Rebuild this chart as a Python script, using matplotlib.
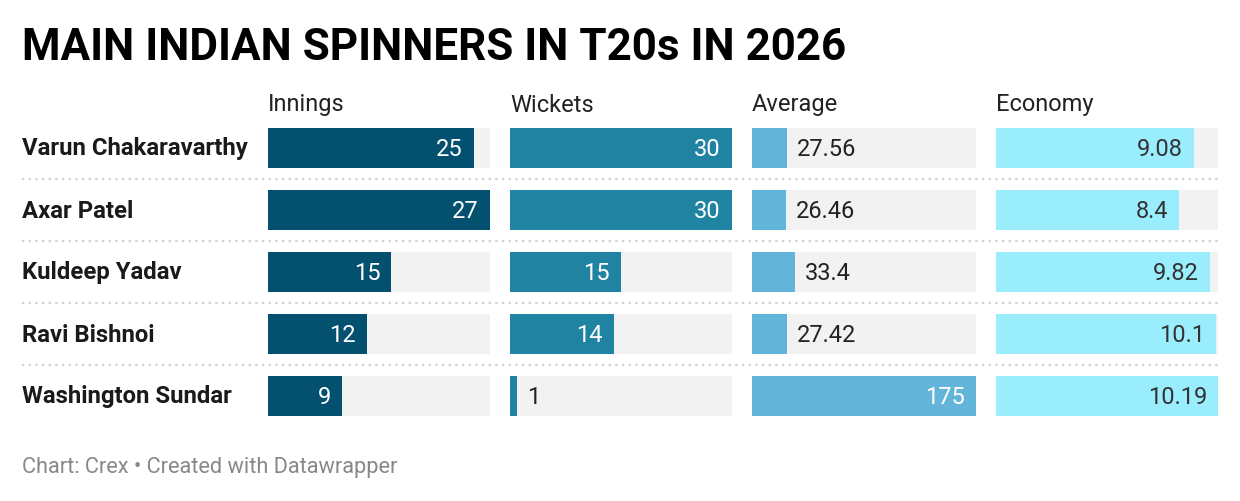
import matplotlib
matplotlib.use("Agg")
import matplotlib.pyplot as plt

# Data
players = ["Varun Chakaravarthy", "Axar Patel", "Kuldeep Yadav", "Ravi Bishnoi", "Washington Sundar"]
innings = [25, 27, 15, 12, 9]
wickets = [30, 30, 15, 14, 1]
average = [27.56, 26.46, 33.4, 27.42, 175]
economy = [9.08, 8.4, 9.82, 10.1, 10.19]
average_labels = ["27.56", "26.46", "33.4", "27.42", "175"]
economy_labels = ["9.08", "8.4", "9.82", "10.1", "10.19"]

plt.rcParams["font.family"] = ["Roboto", "DejaVu Sans"]

W, H = 1240, 502
fig = plt.figure(figsize=(W / 100, H / 100), dpi=100)


def px_axes(x0, y_top, w, h):
    # pixel box (from top-left) -> figure fraction
    return fig.add_axes([x0 / W, 1 - (y_top + h) / H, w / W, h / H])


row_top, row_h = 118, 310  # rows span this pixel band
n = len(players)
ypos = list(range(n))

# background axes for names and separators
bg = px_axes(22, row_top, 1196, row_h)
bg.set_xlim(0, 1)
bg.set_ylim(n - 0.5, -0.5)
bg.axis("off")
for i in range(n - 1):
    bg.axhline(i + 0.5, color="#d0d0d0", lw=1.6, ls=(0, (1, 2)))
for i, name in enumerate(players):
    bg.text(0, i, name, fontsize=17.2, fontweight="bold", color="#1a1a1a",
            va="center", ha="left")

columns = [
    ("Innings", innings, [str(v) for v in innings], "#03506f", "white", 268, 222),
    ("Wickets", wickets, [str(v) for v in wickets], "#1f83a1", "white", 510, 222),
    ("Average", average, average_labels, "#62b5d8", "white", 752, 224),
    ("Economy", economy, economy_labels, "#9aedfd", "#333333", 996, 222),
]

for title, vals, labels, color, inside_color, x0, w in columns:
    ax = px_axes(x0, row_top, w, row_h)
    vmax = max(vals)
    ax.barh(ypos, [vmax] * n, height=0.645, color="#f2f2f2", zorder=1)
    ax.barh(ypos, vals, height=0.645, color=color, zorder=2)
    ax.set_xlim(0, vmax)
    ax.set_ylim(n - 0.5, -0.5)
    ax.axis("off")
    for i, (v, lab) in enumerate(zip(vals, labels)):
        if v / vmax > 0.25:
            ax.annotate(lab, (v, i), xytext=(-8, 0), textcoords="offset points",
                        ha="right", va="center", fontsize=17, color=inside_color, zorder=3)
        else:
            ax.annotate(lab, (v, i), xytext=(7, 0), textcoords="offset points",
                        ha="left", va="center", fontsize=17, color="#222222", zorder=3)
    fig.text(x0 / W, 1 - 105 / H, title, fontsize=17, color="#222222",
             ha="left", va="center")

fig.text(22 / W, 1 - 48 / H, "MAIN INDIAN SPINNERS IN T20s IN 2026",
         fontsize=31.7, fontweight="bold", color="#000000", ha="left", va="center")
fig.text(22 / W, 1 - 468 / H, "Chart: Crex \u2022 Created with Datawrapper",
         fontsize=15.7, color="#888888", ha="left", va="center")

fig.savefig("out.png", dpi=100, facecolor="white")
